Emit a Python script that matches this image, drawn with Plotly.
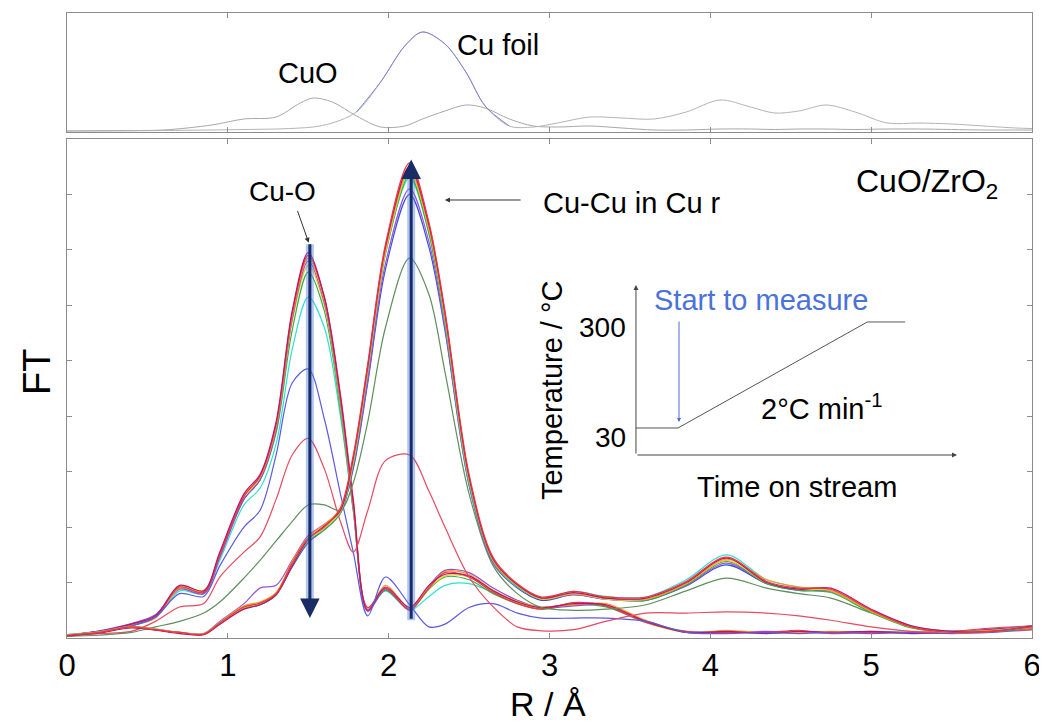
import plotly.graph_objects as go

# ---------------- data ----------------
R_KNOTS = [0.0, 0.2, 0.4, 0.55, 0.7, 0.85, 0.95, 1.1, 1.2, 1.3, 1.4, 1.5, 1.6, 1.7, 1.78, 1.87,
           1.98, 2.13, 2.25, 2.35, 2.5, 2.65, 2.8, 2.95, 3.15, 3.35, 3.6, 3.85, 4.1, 4.35, 4.55,
           4.75, 5.0, 5.25, 5.5, 5.75, 6.0]

# CuO-like spectra (start of reduction)
CO_MAGENTA = [0.05,0.12,0.25,0.40,0.95,0.85,1.55,2.60,2.95,3.90,5.90,6.95,6.15,4.35,2.45,0.50,0.92,0.55,0.95,1.15,1.12,0.85,0.65,0.55,0.62,0.60,0.30,0.10,0.12,0.08,0.12,0.10,0.12,0.08,0.10,0.15,0.20]
CO_RED     = [0.04,0.10,0.22,0.38,0.92,0.82,1.50,2.55,2.92,3.85,5.85,6.90,6.15,4.40,2.50,0.55,0.90,0.50,0.90,1.18,1.10,0.82,0.62,0.52,0.64,0.58,0.28,0.12,0.10,0.10,0.14,0.08,0.10,0.10,0.12,0.18,0.22]
CO_ORANGE  = [0.06,0.11,0.24,0.36,0.90,0.84,1.52,2.58,2.90,3.80,5.80,6.85,6.10,4.30,2.40,0.52,0.95,0.55,0.92,1.20,1.15,0.86,0.66,0.56,0.60,0.62,0.32,0.10,0.14,0.09,0.10,0.12,0.10,0.09,0.12,0.14,0.18]
CO_PURPLE  = [0.05,0.13,0.26,0.42,0.88,0.80,1.45,2.50,2.85,3.75,5.75,6.80,6.05,4.25,2.35,0.48,0.88,0.52,0.94,1.22,1.18,0.90,0.68,0.54,0.58,0.60,0.30,0.11,0.10,0.12,0.10,0.09,0.11,0.10,0.09,0.16,0.20]
CO_YELLOW  = [0.04,0.12,0.23,0.38,0.93,0.86,1.50,2.55,2.88,3.78,5.70,6.72,6.00,4.20,2.35,0.50,0.90,0.55,0.90,1.12,1.10,0.84,0.64,0.55,0.62,0.60,0.28,0.10,0.12,0.10,0.12,0.10,0.10,0.09,0.10,0.15,0.18]
CO_GREEN   = [0.05,0.12,0.24,0.40,0.90,0.83,1.48,2.50,2.85,3.70,5.55,6.60,5.90,4.10,2.30,0.50,0.86,0.52,0.88,1.10,1.05,0.80,0.62,0.52,0.60,0.56,0.28,0.10,0.11,0.09,0.11,0.10,0.10,0.10,0.10,0.14,0.18]
CO_CYAN    = [0.06,0.12,0.22,0.36,0.85,0.80,1.40,2.40,2.70,3.50,5.20,6.15,5.60,4.00,2.30,0.55,0.85,0.50,0.75,0.95,0.98,0.82,0.64,0.55,0.62,0.58,0.30,0.12,0.12,0.10,0.12,0.10,0.12,0.10,0.12,0.16,0.22]

# intermediate spectra
MID_BLUE  = [0.05,0.12,0.22,0.38,0.80,0.75,1.30,2.00,2.30,3.30,4.60,4.85,3.95,2.60,1.55,0.40,1.10,0.60,0.20,0.25,0.55,0.62,0.45,0.36,0.36,0.36,0.30,0.10,0.08,0.10,0.08,0.10,0.08,0.10,0.08,0.10,0.15]
MID_RED   = [0.03,0.08,0.12,0.30,0.56,0.62,1.10,1.55,1.82,2.50,3.30,3.60,3.05,2.10,1.55,2.30,3.20,3.30,2.65,2.00,1.10,0.56,0.20,0.13,0.15,0.30,0.45,0.45,0.47,0.45,0.40,0.32,0.20,0.12,0.10,0.12,0.15]
MID_GREEN = [0.03,0.05,0.10,0.20,0.30,0.45,0.65,1.08,1.40,1.75,2.10,2.40,2.40,2.30,2.80,3.90,5.60,6.85,6.20,4.80,2.60,1.30,0.80,0.55,0.50,0.52,0.60,0.85,1.08,0.90,0.80,0.72,0.45,0.20,0.12,0.12,0.18]

# metallic Cu spectra (end of reduction)
CU_RED     = [0.05,0.10,0.20,0.15,0.10,0.07,0.27,0.56,0.63,0.80,1.35,1.80,2.00,2.35,3.30,4.95,7.10,8.57,7.50,5.90,2.95,1.45,0.98,0.74,0.84,0.74,0.74,1.02,1.46,1.02,0.90,0.88,0.50,0.20,0.10,0.12,0.20]
CU_MAGENTA = [0.04,0.09,0.18,0.14,0.08,0.06,0.25,0.52,0.60,0.78,1.30,1.78,2.02,2.30,3.25,4.90,7.05,8.50,7.45,5.85,2.90,1.42,0.96,0.72,0.82,0.72,0.72,1.00,1.44,1.00,0.88,0.90,0.52,0.22,0.12,0.12,0.22]
CU_ORANGE  = [0.05,0.11,0.20,0.16,0.10,0.08,0.28,0.58,0.65,0.82,1.38,1.82,2.05,2.32,3.20,4.85,7.00,8.45,7.40,5.80,2.88,1.40,0.95,0.73,0.80,0.73,0.70,0.98,1.42,1.05,0.92,0.86,0.48,0.20,0.10,0.14,0.18]
CU_YELLOW  = [0.05,0.10,0.19,0.15,0.09,0.07,0.26,0.55,0.62,0.80,1.32,1.76,1.98,2.28,3.18,4.85,6.95,8.40,7.38,5.78,2.85,1.40,0.94,0.70,0.80,0.70,0.70,0.98,1.40,1.00,0.88,0.85,0.48,0.20,0.10,0.12,0.20]
CU_GREEN   = [0.04,0.10,0.20,0.15,0.10,0.07,0.25,0.54,0.60,0.78,1.30,1.75,1.95,2.25,3.15,4.80,6.92,8.35,7.30,5.72,2.82,1.38,0.93,0.70,0.80,0.72,0.68,0.96,1.38,0.98,0.86,0.82,0.46,0.18,0.10,0.12,0.18]
CU_CYAN    = [0.06,0.11,0.21,0.16,0.10,0.08,0.28,0.56,0.62,0.80,1.32,1.76,1.98,2.28,3.15,4.82,6.95,8.30,7.30,5.70,2.80,1.38,0.92,0.72,0.84,0.75,0.74,1.05,1.50,1.05,0.92,0.86,0.50,0.22,0.12,0.14,0.22]
CU_PURPLE  = [0.05,0.10,0.20,0.16,0.10,0.08,0.30,0.62,0.90,0.95,1.40,1.85,2.05,2.30,3.10,4.65,6.75,8.10,7.15,5.60,2.78,1.35,0.92,0.70,0.78,0.70,0.70,0.95,1.35,1.00,0.88,0.84,0.48,0.20,0.10,0.12,0.20]
CU_BLUE    = [0.05,0.10,0.20,0.15,0.09,0.07,0.26,0.54,0.60,0.78,1.28,1.72,1.95,2.25,3.05,4.60,6.65,8.00,7.05,5.55,2.75,1.35,0.90,0.68,0.78,0.70,0.68,0.94,1.32,0.98,0.86,0.84,0.48,0.20,0.10,0.12,0.18]

# reference spectra (top panel)
R_REF = [0.0, 0.3, 0.6, 0.9, 1.1, 1.3, 1.45, 1.53, 1.65, 1.8, 1.95, 2.1, 2.21, 2.35, 2.48, 2.6,
         2.75, 2.9, 3.05, 3.25, 3.45, 3.65, 3.85, 4.06, 4.25, 4.4, 4.55, 4.72, 4.9, 5.1, 5.3,
         5.5, 5.7, 5.9, 6.0]
REF_CUO    = [0.1,0.15,0.2,0.7,1.3,1.5,2.9,3.4,3.0,1.6,0.5,0.6,1.3,2.1,2.7,2.4,1.3,0.6,0.5,0.6,0.4,0.2,0.2,0.3,0.3,0.25,0.3,0.3,0.25,0.3,0.3,0.25,0.2,0.2,0.2]
REF_CUFOIL = [0.1,0.1,0.15,0.2,0.25,0.3,0.4,0.5,0.9,2.0,5.0,8.6,10.0,8.8,6.0,2.6,0.6,0.5,0.9,1.5,1.4,1.3,2.0,3.2,2.5,1.9,2.1,2.7,2.0,0.9,0.9,0.8,0.6,0.4,0.35]
FOIL_PEAK = slice(9, 17)   # part of the Cu foil curve drawn in blue

# inset: temperature programme
TIME_MIN = [0, 30, 165, 192]
TEMP_C = [30, 30, 300, 300]

X_TICKS = [0, 1, 2, 3, 4, 5, 6]

# ---------------- figure ----------------
SANS = "Liberation Sans, Arial, sans-serif"
GRAY = "#8c8c8c"

series = [
    (CO_CYAN, "#2fe0d0"), (CO_GREEN, "#33b040"), (CO_YELLOW, "#e2d030"),
    (CO_PURPLE, "#8a4fd0"), (CO_ORANGE, "#f59a23"), (CO_RED, "#ee3344"), (CO_MAGENTA, "#b8166e"),
    (MID_BLUE, "#5a5ae6"), (MID_RED, "#e84a5f"), (MID_GREEN, "#5e8f5e"),
    (CU_BLUE, "#3a4ee0"), (CU_PURPLE, "#9a55d8"), (CU_CYAN, "#2fe0d0"), (CU_GREEN, "#33b040"),
    (CU_YELLOW, "#e2d030"), (CU_ORANGE, "#f59a23"), (CU_MAGENTA, "#b8166e"), (CU_RED, "#ee3344"),
]

fig = go.Figure()
for vals, col in series:
    fig.add_trace(go.Scatter(x=R_KNOTS, y=vals, mode="lines",
                             line=dict(color=col, width=1.2, shape="spline", smoothing=0.9),
                             showlegend=False, hoverinfo="skip", xaxis="x", yaxis="y"))

fig.add_trace(go.Scatter(x=R_REF, y=REF_CUO, mode="lines",
                         line=dict(color="#a8a8a8", width=1, shape="spline", smoothing=0.9),
                         showlegend=False, xaxis="x2", yaxis="y2"))
fig.add_trace(go.Scatter(x=R_REF, y=REF_CUFOIL, mode="lines",
                         line=dict(color="#b4b4b4", width=1, shape="spline", smoothing=0.9),
                         showlegend=False, xaxis="x2", yaxis="y2"))
fig.add_trace(go.Scatter(x=R_REF[FOIL_PEAK], y=REF_CUFOIL[FOIL_PEAK], mode="lines",
                         line=dict(color="#8080d8", width=1, shape="spline", smoothing=0.9),
                         showlegend=False, xaxis="x2", yaxis="y2"))

fig.add_trace(go.Scatter(x=TIME_MIN, y=TEMP_C, mode="lines",
                         line=dict(color="#555555", width=1),
                         showlegend=False, xaxis="x3", yaxis="y3"))

axis_common = dict(showline=True, linecolor=GRAY, linewidth=1, mirror="ticks",
                   ticks="inside", ticklen=5, tickcolor=GRAY, showgrid=False, zeroline=False,
                   automargin=False)

# the page has an 8 px body margin, so the figure is 8 px smaller than the window
fig.update_layout(
    width=1039, height=717, autosize=False,
    margin=dict(l=59, r=15, t=5, b=87),
    paper_bgcolor="white", plot_bgcolor="white",
    xaxis=dict(domain=[0, 1], range=[0, 6], anchor="y", tickvals=X_TICKS,
               ticktext=[str(v) for v in X_TICKS],
               tickfont=dict(family=SANS, size=31, color="black"), **axis_common),
    yaxis=dict(domain=[0, 0.7984], range=[0, 9], anchor="x", dtick=1,
               showticklabels=False, **axis_common),
    xaxis2=dict(domain=[0, 1], range=[0, 6], anchor="y2", tickvals=[1, 2, 3, 4, 5],
                showticklabels=False, **axis_common),
    yaxis2=dict(domain=[0.8096, 1], range=[0, 11.9], anchor="x2", showticklabels=False,
                showline=True, linecolor=GRAY, mirror=True, ticks="", showgrid=False,
                zeroline=False, automargin=False),
    xaxis3=dict(domain=[0.5896, 0.9223], range=[0, 229], anchor="y3", visible=False),
    yaxis3=dict(domain=[0.2928, 0.5648], range=[-38.8, 394.2], anchor="x3", visible=False),
)

ARROW_DARK = "#1b2b63"
GLOW = "rgba(80,130,230,0.45)"
fig.add_shape(type="line", xref="x", yref="y", x0=1.51, x1=1.51, y0=0.55, y1=7.1,
              line=dict(color=GLOW, width=8))
fig.add_shape(type="line", xref="x", yref="y", x0=2.14, x1=2.14, y0=0.32, y1=8.45,
              line=dict(color=GLOW, width=8))


def txt(x, y, text, size, xref="x", yref="y", color="black", xanchor="center", angle=0):
    return dict(x=x, y=y, xref=xref, yref=yref, text=text, showarrow=False,
                xanchor=xanchor, yanchor="middle", textangle=angle,
                font=dict(family=SANS, size=size, color=color))


def arrow(x, y, ax, ay, ref_x, ref_y, width, size, color):
    return dict(x=x, y=y, ax=ax, ay=ay, xref=ref_x, yref=ref_y, axref=ref_x, ayref=ref_y,
                showarrow=True, arrowhead=2, arrowsize=size, arrowwidth=width,
                arrowcolor=color, text="")


ann = [
    arrow(1.51, 0.36, 1.51, 7.13, "x", "y", 3, 1.3, ARROW_DARK),
    arrow(2.14, 8.63, 2.14, 0.32, "x", "y", 3, 1.3, ARROW_DARK),
    arrow(1.503, 7.13, 1.43, 7.73, "x", "y", 1, 1, "#333333"),
    arrow(2.35, 7.9, 2.83, 7.9, "x", "y", 1, 1, "#333333"),
    txt(1.34, 8.05, "Cu-O", 28),
    txt(2.95, 7.85, "Cu-Cu in Cu r", 29, xanchor="left"),
    txt(5.35, 8.2, "CuO/ZrO<sub>2</sub>", 32),
    txt(1.50, 5.9, "CuO", 29, xref="x2", yref="y2"),
    txt(2.68, 8.7, "Cu foil", 29, xref="x2", yref="y2"),
    txt(-0.031, 0.4256, "FT", 38, xref="paper", yref="paper", angle=-90),
    txt(0.498, -0.1056, "R / Å", 34, xref="paper", yref="paper"),
    # inset
    arrow(0, 394, 0, -38.8, "x3", "y3", 1, 1, "#444444"),
    arrow(229, -38.8, 0, -38.8, "x3", "y3", 1, 1, "#444444"),
    arrow(30.7, 45, 30.7, 305, "x3", "y3", 1, 0.8, "#4a6ad8"),
    txt(0.5813, 0.4976, "300", 28, xref="paper", yref="paper", xanchor="right"),
    txt(0.5813, 0.3216, "30", 28, xref="paper", yref="paper", xanchor="right"),
    txt(89, 356, "Start to measure", 29, xref="x3", yref="y3", color="#4a72d8"),
    txt(133, 84, "2°C min<sup>-1</sup>", 29, xref="x3", yref="y3"),
    txt(0.7565, 0.2416, "Time on stream", 29, xref="paper", yref="paper"),
    txt(0.5026, 0.3968, "Temperature / °C", 29, xref="paper", yref="paper", angle=-90),
]
fig.update_layout(annotations=ann)

fig.write_html("out.html")
